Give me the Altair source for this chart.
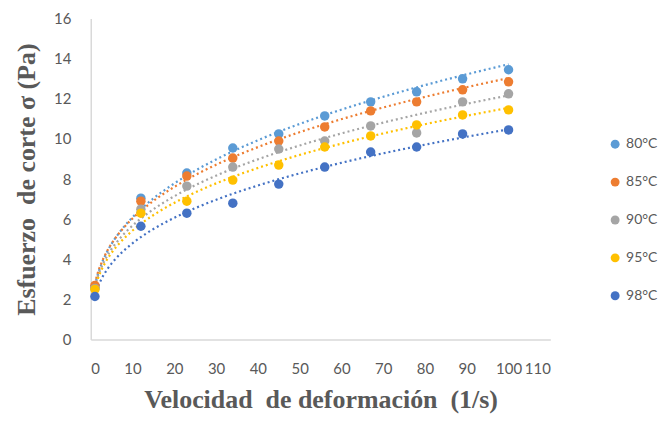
import altair as alt
import pandas as pd

shear_rate = [1, 12, 23, 34, 45, 56, 67, 78, 89, 100]
series_names = ["80°C", "85°C", "90°C", "95°C", "98°C"]
s80 = [2.6, 7.05, 8.3, 9.55, 10.25, 11.15, 11.85, 12.35, 13.0, 13.45]
s85 = [2.7, 6.9, 8.15, 9.05, 9.9, 10.6, 11.4, 11.85, 12.45, 12.85]
s90 = [2.55, 6.5, 7.65, 8.6, 9.5, 9.9, 10.65, 10.3, 11.85, 12.25]
s95 = [2.5, 6.3, 6.9, 7.95, 8.7, 9.6, 10.15, 10.7, 11.2, 11.45]
s98 = [2.15, 5.65, 6.3, 6.8, 7.75, 8.6, 9.35, 9.6, 10.25, 10.45]
colors = ["#5B9BD5", "#ED7D31", "#A5A5A5", "#FFC000", "#4472C4"]

rows = []
for name, vals in zip(series_names, [s80, s85, s90, s95, s98]):
    for x, y in zip(shear_rate, vals):
        rows.append({"serie": name, "x": x, "y": y})
df = pd.DataFrame(rows)

NB = "\u00a0"
color_scale = alt.Scale(domain=series_names, range=colors)
x_enc = alt.X("x:Q", scale=alt.Scale(domain=[0, 110], nice=False),
              axis=alt.Axis(values=list(range(0, 111, 10)),
                            title=f"Velocidad {NB}de deformación {NB}(1/s)",
                            grid=False, ticks=False, labelPadding=22, titlePadding=10,
                            domainColor="#D9D9D9", domainWidth=1.5))
y_enc = alt.Y("y:Q", scale=alt.Scale(domain=[0, 16], nice=False),
              axis=alt.Axis(values=list(range(0, 17, 2)),
                            title=f"Esfuerzo {NB}de corte σ (Pa)",
                            grid=False, ticks=False, labelPadding=20, titlePadding=14,
                            domainColor="#D9D9D9", domainWidth=1.5))

lines = alt.Chart(df).transform_regression(
    "x", "y", method="pow", groupby=["serie"], extent=[1, 100]
).mark_line(strokeDash=[2, 3], strokeWidth=2.2).encode(
    x=x_enc, y=y_enc,
    color=alt.Color("serie:N", scale=color_scale, legend=None),
)

points = alt.Chart(df).mark_circle(size=90, opacity=1).encode(
    x=x_enc, y=y_enc,
    color=alt.Color("serie:N", scale=color_scale,
                    legend=alt.Legend(title=None, orient="none", legendX=519, legendY=119,
                                      symbolType="circle", symbolSize=80, rowPadding=24,
                                      labelOffset=4,
                                      labelFontSize=14, labelFont="Lato", labelColor="#595959")),
)

chart = alt.layer(lines, points).resolve_legend(color="independent").properties(
    width=461, height=322,
    autosize=alt.AutoSizeParams(type="none"),
    padding={"left": 83, "top": 10, "right": 109, "bottom": 76},
).configure_view(stroke=None).configure_axis(
    labelFont="Lato", labelFontSize=15, labelColor="#595959",
    titleFont="Liberation Serif", titleFontSize=26, titleFontWeight="bold", titleColor="#595959",
)

chart.save("out.html", embed_options={"renderer": "svg", "actions": False})
